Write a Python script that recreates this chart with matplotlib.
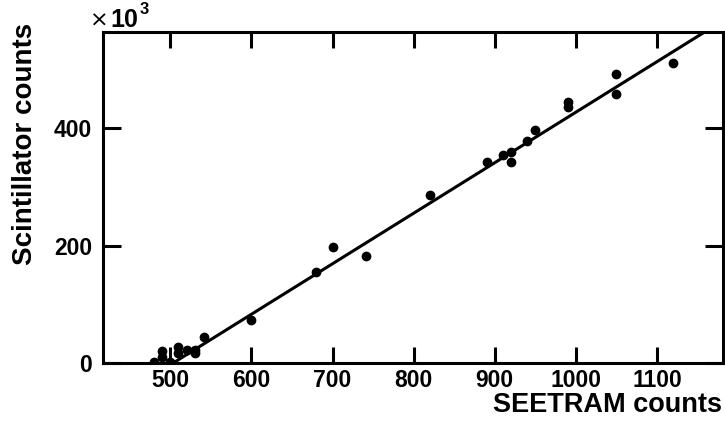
import matplotlib
matplotlib.use("Agg")
import matplotlib.pyplot as plt
import numpy as np

# Data (SEETRAM counts, Scintillator counts in units of 10^3)
seetram = [480, 490, 490, 500, 510, 510, 520, 530, 530, 541,
           600, 680, 700, 741, 820, 890, 910, 920, 920, 940,
           950, 990, 990, 1050, 1050, 1120]
scint = [2, 21, 11, 2, 28, 18, 23, 23, 17, 44,
         73, 155, 198, 183, 286, 342, 354, 360, 343, 378,
         397, 445, 436, 492, 458, 512]
fit_slope = 0.86
fit_intercept = -432.5
x_ticks = [500, 600, 700, 800, 900, 1000, 1100]
y_ticks = [0, 200, 400]

W, H = 725, 421
fig = plt.figure(figsize=(W / 100, H / 100), dpi=100)
ax = fig.add_axes([103 / W, 1 - 363.3 / H, (722.7 - 103) / W, (363.3 - 32) / H])

font = "Liberation Sans"
ax.plot(seetram, scint, "o", color="black", markersize=6, zorder=3)
xl = np.array([417, 1181])
ax.plot(xl, fit_slope * xl + fit_intercept, color="black", lw=2.2, zorder=2)

ax.set_xlim(417, 1181)
ax.set_ylim(0, 564)
ax.set_xticks(x_ticks)
ax.set_yticks(y_ticks)
ax.set_xticklabels([str(v) for v in x_ticks], fontfamily=font, fontweight="bold", fontsize=16.5)
ax.set_yticklabels([str(v) for v in y_ticks], fontfamily=font, fontweight="bold", fontsize=16.5)
ax.tick_params(axis="x", direction="in", length=11.5, width=2.2, top=True, bottom=True, pad=4)
ax.tick_params(axis="y", direction="in", length=13, width=2.2, left=True, right=True, pad=8)
for s in ax.spines.values():
    s.set_linewidth(2.2)

fig.text(722 / W, 1 - 411.7 / H, "SEETRAM counts", ha="right", va="baseline",
         fontfamily=font, fontweight="bold", fontsize=19.5)
fig.text(25 / W, 1 - 23 / H, "Scintillator counts", ha="center", va="top", rotation=90,
         fontfamily=font, fontweight="bold", fontsize=20)

fig.text(90 / W, 1 - 26.5 / H, "\u00d7", ha="left", va="baseline",
         fontfamily="DejaVu Sans", fontsize=16)
fig.text(110 / W, 1 - 27.3 / H, "10", ha="left", va="baseline",
         fontfamily=font, fontweight="bold", fontsize=18)
fig.text(140 / W, 1 - 13.5 / H, "3", ha="left", va="baseline",
         fontfamily=font, fontweight="bold", fontsize=12)

fig.savefig("out.png", dpi=100)
